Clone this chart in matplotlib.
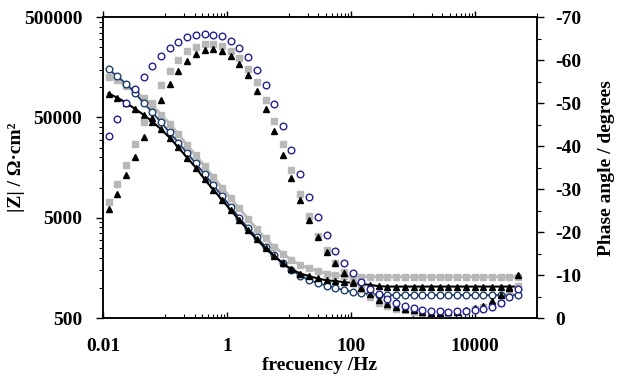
import matplotlib
matplotlib.use("Agg")
import matplotlib.pyplot as plt
from matplotlib.ticker import FixedLocator, FuncFormatter

# frequencies (Hz), high -> low
freq = [50000, 36150, 26180, 18930, 13700, 9910, 7170, 5190, 3750, 2715,
        1965, 1420, 1028, 743, 538, 389, 281, 204, 147, 107,
        77.1, 55.8, 40.4, 29.2, 21.1, 15.3, 11.0, 8.0, 5.78, 4.19,
        3.03, 2.19, 1.58, 1.15, 0.83, 0.60, 0.434, 0.314, 0.227, 0.164,
        0.119, 0.086, 0.0622, 0.045, 0.0326, 0.0236, 0.0170, 0.0123]

# open circles
z_circ = [848, 848, 848, 848, 848, 848, 848, 848, 848, 848,
          848, 848, 848, 848, 848, 848, 857, 867, 887, 914,
          951, 1000, 1054, 1117, 1195, 1325, 1500, 1750, 2120, 2570,
          3180, 3940, 5000, 6420, 8270, 10600, 13600, 17400, 22100, 28100,
          35400, 44800, 56400, 69700, 88100, 108300, 128500, 151000]
ph_circ = [-6.7, -4.9, -3.6, -2.6, -2.2, -1.9, -1.7, -1.6, -1.5, -1.6,
           -1.7, -1.9, -2.3, -2.9, -3.6, -4.5, -5.6, -6.8, -8.5, -10.5,
           -12.8, -15.7, -19.3, -23.4, -28.2, -33.5, -39.1, -44.6, -49.7, -54.1,
           -57.8, -60.7, -62.8, -64.4, -65.5, -65.9, -66.1, -65.8, -65.3, -64.1,
           -62.7, -60.9, -58.6, -56.1, -53.2, -50.0, -46.3, -42.4]

# grey squares
z_sq = [1290, 1290, 1290, 1290, 1290, 1290, 1290, 1290, 1290, 1290,
        1290, 1290, 1290, 1290, 1290, 1290, 1290, 1290, 1290, 1290,
        1310, 1340, 1390, 1480, 1560, 1690, 1890, 2200, 2570, 3110,
        3850, 4900, 6190, 7840, 10000, 12700, 16400, 20900, 26600, 34000,
        43300, 53400, 65900, 78200, 91200, 103400, 117400, 127700]
ph_sq = [-7.5, -5.5, -3.5, -3.0, -2.5, -2.1, -1.6, -1.3, -1.1, -1.0,
         -1.0, -1.2, -1.5, -1.9, -2.2, -2.8, -3.6, -4.8, -6.8, -8.5,
         -10.7, -12.9, -15.8, -19.1, -23.7, -28.9, -34.5, -40.4, -45.8, -50.7,
         -54.8, -58.0, -60.6, -62.2, -63.3, -63.7, -63.7, -63.1, -62.0, -60.1,
         -57.5, -54.1, -50.0, -45.5, -40.4, -35.7, -31.1, -27.0]

# black triangles
z_tri = [1030, 1030, 1030, 1030, 1030, 1030, 1030, 1030, 1030, 1030,
         1030, 1030, 1030, 1030, 1030, 1030, 1040, 1070, 1090, 1120,
         1140, 1170, 1190, 1240, 1310, 1390, 1530, 1750, 2070, 2470,
         3040, 3760, 4730, 5950, 7570, 9520, 12100, 15800, 19900, 25100,
         31400, 38100, 45500, 53200, 61000, 70000, 78600, 86500]
ph_tri = [-10.0, -7.0, -5.3, -4.0, -2.9, -2.3, -1.8, -1.5, -1.3, -1.2,
          -1.2, -1.4, -1.9, -2.2, -2.6, -3.3, -4.2, -5.6, -6.9, -8.5,
          -10.4, -12.7, -15.4, -18.9, -22.8, -27.4, -32.6, -38.0, -43.4, -48.6,
          -52.8, -56.5, -59.1, -61.0, -62.1, -62.5, -62.3, -61.4, -59.8, -57.5,
          -54.5, -50.8, -46.5, -42.2, -37.5, -33.2, -28.8, -25.3]

x_major = [0.01, 1, 100, 10000]
x_minor = [b * k for b in (0.01, 1, 100, 10000) for k in range(10, 100, 10)]
y_major = [500, 5000, 50000, 500000]
y_minor = [b * k for b in (500, 5000, 50000) for k in range(2, 10)]
ph_major = [0, -10, -20, -30, -40, -50, -60, -70]
ph_minor = [-5, -15, -25, -35, -45, -55, -65]

plt.rcParams["font.family"] = ["Liberation Serif", "DejaVu Serif"]
plt.rcParams["font.weight"] = "bold"

GREY = "#b8b8b8"
NAVY = "#1f3f6a"
BLUE = "#22228f"

fig, ax = plt.subplots(figsize=(6.17, 3.8), dpi=100)
fig.subplots_adjust(left=0.167, right=0.870, top=0.955, bottom=0.163)

# |Z|
ax.plot(freq, z_sq, color=GREY, lw=2.0, zorder=1)
ax.plot(freq, z_sq, ls="none", marker="s", ms=4.3, mfc=GREY, mec=GREY, zorder=2)
ax.plot(freq, z_circ, color=NAVY, lw=1.3, zorder=3)
ax.plot(freq, z_circ, ls="none", marker="o", ms=4.8, mfc="white", mec=NAVY,
        mew=1.0, zorder=4)
ax.plot(freq, z_tri, color="black", lw=1.5, zorder=5)
ax.plot(freq, z_tri, ls="none", marker="^", ms=4.3, color="black", zorder=6)

ax.set_xscale("log")
ax.set_yscale("log")
ax.set_xlim(0.01, 100000)
ax.set_ylim(500, 500000)

ax.xaxis.set_major_locator(FixedLocator(x_major))
ax.xaxis.set_minor_locator(FixedLocator(x_minor))
ax.xaxis.set_major_formatter(FuncFormatter(lambda v, p: f"{v:g}"))
ax.xaxis.set_minor_formatter(FuncFormatter(lambda v, p: ""))
ax.yaxis.set_major_locator(FixedLocator(y_major))
ax.yaxis.set_minor_locator(FixedLocator(y_minor))
ax.yaxis.set_major_formatter(FuncFormatter(lambda v, p: f"{v:.0f}"))
ax.yaxis.set_minor_formatter(FuncFormatter(lambda v, p: ""))

ax.tick_params(axis="x", which="major", direction="in", length=4, width=1,
               labelsize=14, pad=14, top=False)
ax.tick_params(axis="x", which="minor", direction="in", length=3, width=0.8,
               top=False)
ax.tick_params(axis="y", which="major", direction="out", length=5, width=1,
               labelsize=14, pad=10)
ax.tick_params(axis="y", which="minor", direction="out", length=3, width=0.8)

ax.set_xlabel("frecuency /Hz", fontsize=14, fontweight="bold", labelpad=2)
ax.set_ylabel("|Z| / Ω·cm²", fontsize=14, fontweight="bold")
ax.yaxis.set_label_coords(-0.180, 0.5)

# phase
ax2 = ax.twinx()
ax2.plot(freq, ph_sq, ls="none", marker="s", ms=4.3, mfc=GREY, mec=GREY, zorder=2)
ax2.plot(freq, ph_tri, ls="none", marker="^", ms=4.3, color="black", zorder=3)
ax2.plot(freq, ph_circ, ls="none", marker="o", ms=4.8, mfc="white", mec=BLUE,
         mew=1.0, zorder=4)
ax2.set_ylim(0, -70)
ax2.yaxis.set_major_locator(FixedLocator(ph_major))
ax2.yaxis.set_minor_locator(FixedLocator(ph_minor))
ax2.yaxis.set_major_formatter(FuncFormatter(lambda v, p: f"{v:.0f}"))
ax2.tick_params(axis="y", which="major", direction="out", length=5, width=1,
                labelsize=14, pad=8)
ax2.tick_params(axis="y", which="minor", direction="out", length=3, width=0.8)
ax2.set_ylabel("Phase angle / degrees", fontsize=14, fontweight="bold")
ax2.yaxis.set_label_coords(1.140, 0.5)

# ticks on the top edge point outwards
ax2.xaxis.set_visible(True)
ax2.xaxis.tick_top()
ax2.tick_params(axis="x", which="major", direction="out", length=4, width=1,
                labeltop=False, labelbottom=False, bottom=False)
ax2.tick_params(axis="x", which="minor", direction="out", length=3, width=0.8,
                bottom=False)

for a in (ax, ax2):
    for s in a.spines.values():
        s.set_linewidth(1.1)

fig.savefig("out.png", dpi=100)
